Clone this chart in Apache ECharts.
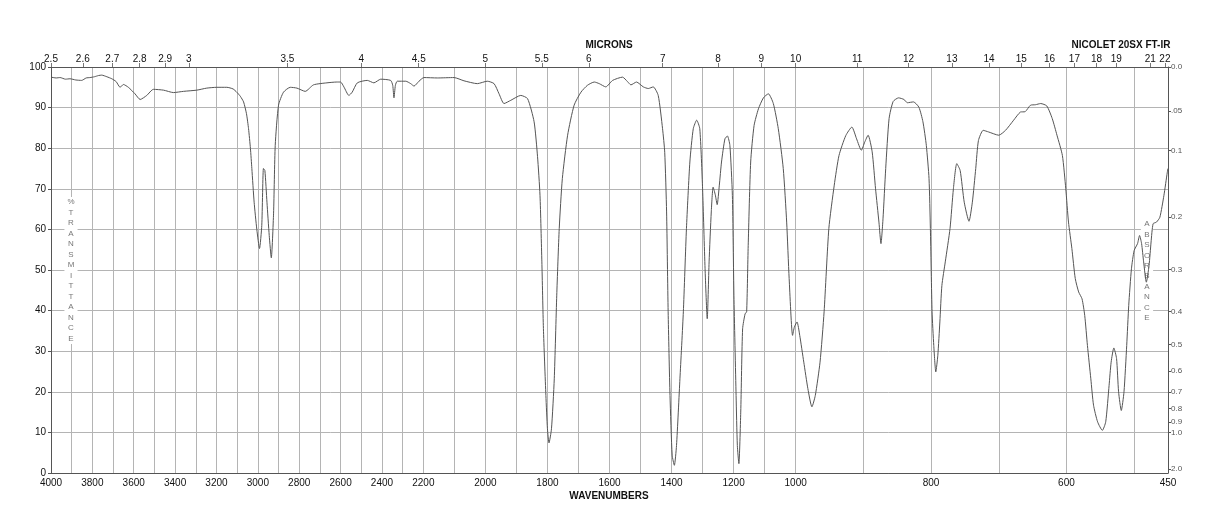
<!DOCTYPE html>
<html>
<head>
<meta charset="utf-8">
<script src="https://cdn.jsdelivr.net/npm/echarts@6/dist/echarts.min.js"></script>
<style>
    html, body { margin: 0; padding: 0; background: #fff; }
    #chart { width: 1218px; height: 528px; }
</style>
</head>
<body>
<div id="chart"></div>
<script>
// IR trace: wavenumber (cm-1) / % transmittance
const wavenumbers = [
    4000, 3975, 3956, 3930, 3908, 3880, 3852, 3830, 3811, 3790, 3770, 3755, 3730, 3706, 3685, 3666, 3650, 3626,
    3594, 3569, 3537, 3505, 3456, 3408, 3360, 3295, 3247, 3198, 3150, 3120, 3102, 3085, 3069, 3055, 3045, 3036,
    3029, 3018, 3005, 2992, 2981, 2973, 2966, 2956, 2945, 2935, 2924, 2916, 2900, 2876, 2843, 2811, 2771, 2731,
    2666, 2618, 2600, 2584, 2560, 2544, 2519, 2471, 2439, 2406, 2358, 2348, 2342, 2335, 2326, 2285, 2261, 2245,
    2221, 2198, 2155, 2101, 2069, 2026, 1994, 1972, 1956, 1940, 1918, 1886, 1864, 1843, 1832, 1824, 1818, 1813,
    1805, 1800, 1795, 1787, 1778, 1770, 1762, 1752, 1735, 1714, 1692, 1671, 1649, 1633, 1612, 1590, 1558, 1542,
    1531, 1513, 1491, 1475, 1459, 1443, 1429, 1422, 1416, 1411, 1405, 1398, 1391, 1384, 1373, 1362, 1352, 1341,
    1330, 1319, 1309, 1300, 1292, 1285, 1279, 1272, 1266, 1259, 1253, 1246, 1239, 1228, 1220, 1212, 1204, 1199,
    1192, 1188, 1183, 1177, 1171, 1163, 1158, 1153, 1145, 1134, 1120, 1104, 1088, 1072, 1056, 1040, 1029, 1021,
    1010, 1004, 998, 994, 988, 982, 976, 971, 964, 958, 951, 943, 936, 926, 917, 910, 903, 898, 893, 887, 882,
    877, 874, 871, 867, 862, 856, 848, 840, 835, 826, 818, 812, 807, 803, 801, 798.5, 796, 793, 790, 787, 784,
    779, 772, 767, 762, 757, 751, 744, 739, 734, 730, 723, 715, 700, 690, 678, 668, 661, 653, 646, 638, 629, 621,
    614, 606, 601, 597, 592, 587, 582, 577, 573, 569, 564, 560, 554, 547, 542, 537, 534, 530, 526, 523, 519, 515,
    511, 508, 504, 500, 495, 492, 489, 486, 482, 478, 475, 472, 467, 462, 456, 451, 450
];
const transmittance = [
    97.5, 97.3, 97.4, 97.0, 97.1, 96.8, 96.7, 97.3, 97.4, 97.6, 97.9, 98.0, 97.6, 97.1, 96.4, 95.0, 95.7, 95.0,
    93.4, 92.0, 93.0, 94.5, 94.3, 93.7, 94.0, 94.3, 94.8, 95.0, 95.0, 94.6, 93.8, 92.8, 91.4, 88.5, 84.8, 80.0,
    75.0, 66.7, 60.0, 55.3, 61.0, 75.0, 74.5, 66.7, 58.5, 53.0, 64.0, 80.7, 90.6, 93.8, 95.0, 94.8, 94.0, 95.6,
    96.1, 96.3, 96.3, 95.1, 93.0, 93.8, 96.1, 96.7, 96.1, 97.0, 96.7, 95.5, 92.4, 95.5, 96.5, 96.5, 95.9, 95.3,
    96.5, 97.4, 97.3, 97.4, 96.6, 95.9, 96.5, 95.9, 93.4, 91.0, 91.8, 93.0, 92.2, 86.5, 78.0, 68.4, 52.0, 35.6,
    19.1, 10.9, 7.4, 10.9, 23.2, 43.8, 60.2, 72.5, 83.2, 90.6, 93.8, 95.5, 96.3, 95.9, 95.1, 96.7, 97.5, 96.4,
    95.6, 96.3, 95.1, 94.7, 95.1, 93.0, 84.8, 79.0, 64.3, 39.7, 19.1, 4.4, 1.9, 6.8, 23.2, 39.7, 60.2, 76.6,
    84.8, 86.9, 84.8, 70.0, 50.3, 38.0, 52.0, 64.3, 70.4, 68.5, 66.1, 70.9, 76.6, 82.3, 83.0, 80.7, 68.4, 43.8,
    19.1, 6.8, 2.3, 15.0, 35.5, 39.2, 39.7, 56.0, 76.6, 85.6, 89.7, 92.4, 93.4, 91.0, 84.8, 75.0, 61.8, 47.9,
    33.9, 36.0, 37.2, 33.9, 27.3, 20.8, 16.3, 19.1, 27.3, 39.7, 60.2, 70.9, 78.2, 83.1, 85.2, 82.3, 79.5, 81.5, 83.2, 79.1, 70.0,
    61.8, 56.5, 62.6, 75.0, 87.3, 91.5, 92.4, 92.0, 91.2, 91.4, 90.1, 86.5, 80.7, 72.5, 60.2, 39.7, 31.4, 24.9, 29.0, 37.2, 46.2,
    52.0, 60.2, 70.0, 76.2, 74.5, 66.7, 62.0, 66.7, 75.0, 81.9, 84.4, 84.0, 83.2, 84.4, 86.9, 88.9, 89.0, 90.6, 90.7, 91.0, 90.4, 87.3,
    83.2, 78.2, 70.0, 61.8, 55.3, 47.9, 44.6, 42.9, 38.8, 31.4, 23.2, 16.7, 12.6, 10.5, 12.6, 21.6, 27.3, 30.8, 28.2, 20.0, 15.4, 20.0,
    31.4, 41.3, 50.3, 54.8, 56.5, 58.5, 56.5, 52.0, 47.0, 51.1, 56.9, 61.4, 61.8, 63.0, 68.4, 74.1, 75.0
];

// tick labels
const waveLabels = [4000, 3800, 3600, 3400, 3200, 3000, 2800, 2600, 2400, 2200, 2000, 1800, 1600, 1400, 1200, 1000, 800, 600, 450];
const micronLabels = [2.5, 2.6, 2.7, 2.8, 2.9, 3, 3.5, 4, 4.5, 5, 5.5, 6, 7, 8, 9, 10, 11, 12, 13, 14, 15, 16, 17, 18, 19, 21, 22];
const absValues = [0, 0.05, 0.1, 0.2, 0.3, 0.4, 0.5, 0.6, 0.7, 0.8, 0.9, 1.0, 2.0];
const absLabels = ['0.0', '.05', '0.1', '0.2', '0.3', '0.4', '0.5', '0.6', '0.7', '0.8', '0.9', '1.0', '2.0'];

// chart paper has 3 equal-width sections: 4000-2200, 2200-1000, 1000-450
const toU = (w) => {
    if (w >= 2200) return (4000 - w) / 1800;
    if (w >= 1000) return 1 + (2200 - w) / 1200;
    return 2 + (1000 - w) / 550;
};
const fromU = (u) => {
    if (u <= 1) return 4000 - u * 1800;
    if (u <= 2) return 2200 - (u - 1) * 1200;
    return 1000 - (u - 2) * 550;
};
const nearest = (list, v) => {
    let best = 0;
    list.forEach((x, i) => { if (Math.abs(x - v) < Math.abs(list[best] - v)) best = i; });
    return best;
};

const gridWaves = [];
for (let w = 3900; w >= 500; w -= 100) gridWaves.push(w);

const micronU = micronLabels.map((m) => toU(10000 / m));
const absT = absValues.map((a) => 100 * Math.pow(10, -a));

const font = 'Liberation Sans, Arial, Helvetica, sans-serif';
const gridColor = '#b4b4b4';
const axisColor = '#555';

const chart = echarts.init(document.getElementById('chart'));

const option = {
    animation: false,
    backgroundColor: '#fff',
    grid: {
        left: 51,
        right: 50,
        top: 67,
        bottom: 55,
        outerBoundsMode: 'none'
    },
    xAxis: [
        {
            type: 'value',
            position: 'bottom',
            min: 0,
            max: 3,
            axisLine: { show: true, onZero: false, lineStyle: { color: axisColor, width: 1 } },
            axisTick: { show: false, customValues: gridWaves.map(toU) },
            splitLine: { show: true, lineStyle: { color: gridColor, width: 1 } },
            axisLabel: {
                customValues: waveLabels.map(toU),
                formatter: (v) => String(Math.round(fromU(v))),
                color: '#111',
                fontSize: 10,
                fontFamily: font,
                margin: 5
            }
        },
        {
            type: 'value',
            position: 'top',
            min: 0,
            max: 3,
            axisLine: { show: true, onZero: false, lineStyle: { color: axisColor, width: 1 } },
            axisTick: { show: true, length: 4, customValues: micronU, lineStyle: { color: '#777' } },
            splitLine: { show: false },
            axisLabel: {
                customValues: micronU,
                formatter: (v) => String(micronLabels[nearest(micronU, v)]),
                color: '#111',
                fontSize: 10,
                fontFamily: font,
                margin: 3
            }
        }
    ],
    yAxis: [
        {
            type: 'value',
            position: 'left',
            min: 0,
            max: 100,
            interval: 10,
            axisLine: { show: true, onZero: false, lineStyle: { color: axisColor, width: 1 } },
            axisTick: { show: true, length: 3, lineStyle: { color: axisColor } },
            splitLine: { show: true, lineStyle: { color: gridColor, width: 1 } },
            axisLabel: { color: '#111', fontSize: 10, fontFamily: font, margin: 5 }
        },
        {
            type: 'value',
            position: 'right',
            min: 0,
            max: 100,
            axisLine: { show: true, onZero: false, lineStyle: { color: axisColor, width: 1 } },
            axisTick: { show: true, length: 3, customValues: absT, lineStyle: { color: axisColor } },
            splitLine: { show: false },
            axisLabel: {
                customValues: absT,
                formatter: (v) => absLabels[nearest(absT, v)],
                color: '#555',
                fontSize: 8,
                fontFamily: font,
                margin: 3
            }
        }
    ],
    graphic: [
        { type: 'text', z: 10, style: { text: 'MICRONS', x: 609, y: 45, align: 'center', verticalAlign: 'middle', font: 'bold 10px ' + font, fill: '#111' } },
        { type: 'text', z: 10, style: { text: 'NICOLET 20SX FT-IR', x: 1121, y: 45, align: 'center', verticalAlign: 'middle', font: 'bold 10px ' + font, fill: '#111' } },
        { type: 'text', z: 10, style: { text: 'WAVENUMBERS', x: 609, y: 496, align: 'center', verticalAlign: 'middle', font: 'bold 10px ' + font, fill: '#111' } },
        {
            type: 'text', z: 1,
            style: {
                text: '%TRANSMITTANCE'.split('').join('\n'), x: 71, y: 197, align: 'center', verticalAlign: 'top',
                font: '8px ' + font, lineHeight: 10.5, fill: '#777', backgroundColor: '#fff', padding: [0, 3]
            }
        },
        {
            type: 'text', z: 1,
            style: {
                text: 'ABSORBANCE'.split('').join('\n'), x: 1147, y: 219, align: 'center', verticalAlign: 'top',
                font: '8px ' + font, lineHeight: 10.4, fill: '#777', backgroundColor: '#fff', padding: [0, 3]
            }
        }
    ],
    series: [
        {
            type: 'line',
            xAxisIndex: 0,
            yAxisIndex: 0,
            data: wavenumbers.map((w, i) => [toU(w), transmittance[i]]),
            showSymbol: false,
            smooth: 0.2,
            lineStyle: { color: '#555', width: 1 },
            z: 5
        }
    ]
};

chart.setOption(option);
</script>
</body>
</html>
